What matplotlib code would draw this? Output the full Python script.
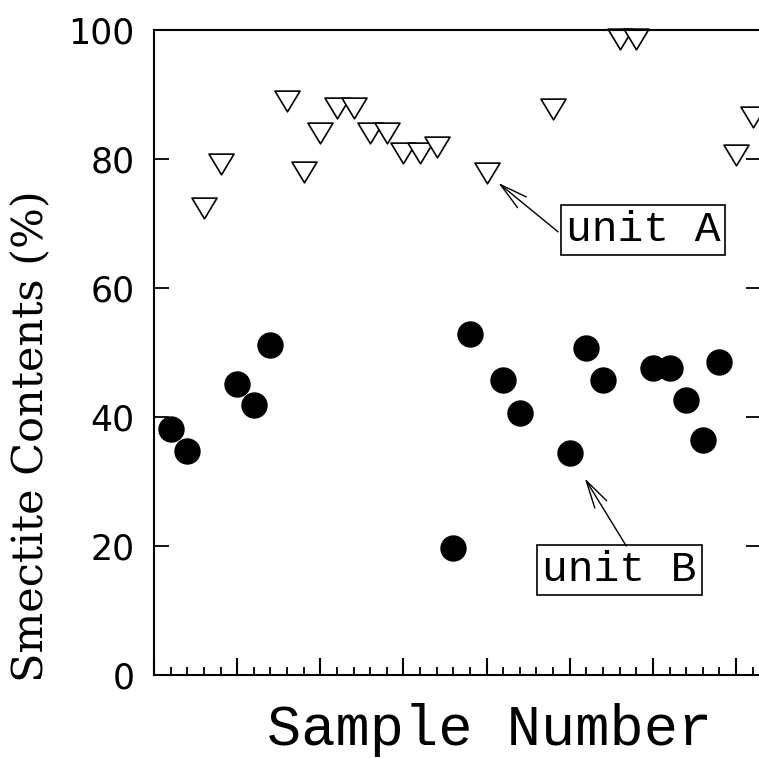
import matplotlib
matplotlib.use('Agg')
import matplotlib.pyplot as plt
from matplotlib.path import Path
from matplotlib.ticker import MultipleLocator, FixedLocator, NullFormatter

# unit A samples (open triangles)
unit_a_x = [3, 4, 8, 9, 10, 11, 12, 13, 14, 15, 16, 17, 20, 24, 28, 29, 35, 36]
unit_a_y = [72.4, 79.2, 89.0, 78.0, 84.0, 87.9, 87.9, 84.0, 84.0, 80.9, 80.9, 81.9,
            77.8, 87.8, 98.6, 98.6, 80.6, 86.5]

# unit B samples (filled circles)
unit_b_x = [1, 2, 5, 6, 7, 18, 19, 21, 22, 25, 26, 27, 30, 31, 32, 33, 34]
unit_b_y = [38.1, 34.7, 45.1, 41.9, 51.2, 19.7, 52.9, 45.7, 40.6, 34.4, 50.7, 45.7,
            47.6, 47.6, 42.6, 36.4, 48.5]

y_ticks = [0, 20, 40, 60, 80, 100]

fig = plt.figure(figsize=(7.59, 7.58), dpi=100)
ax = fig.add_axes([154 / 759, 83 / 758, 607 / 759, 645 / 758])

# slightly flattened downward triangle
tri = Path([(-1, 0.83), (1, 0.83), (0, -0.83), (-1, 0.83)], closed=True)
ax.plot(unit_a_x, unit_a_y, linestyle='none', marker=tri, markersize=18,
        markerfacecolor='white', markeredgecolor='black', markeredgewidth=1.2,
        clip_on=False)
ax.plot(unit_b_x, unit_b_y, linestyle='none', marker='o', markersize=18,
        color='black', clip_on=False)

ax.set_xlim(0, 36.5)
ax.set_ylim(0, 100)

for s in ax.spines.values():
    s.set_linewidth(1.5)

ax.xaxis.set_major_locator(MultipleLocator(5))
ax.xaxis.set_minor_locator(MultipleLocator(1))
ax.xaxis.set_major_formatter(NullFormatter())
ax.yaxis.set_major_locator(FixedLocator(y_ticks))
ax.tick_params(axis='x', which='major', direction='in', length=12, width=1.5,
               top=False, bottom=True)
ax.tick_params(axis='x', which='minor', direction='in', length=6, width=1.3,
               top=False, bottom=True)
ax.tick_params(axis='y', which='major', direction='in', length=11, width=1.3,
               left=True, right=True, pad=14)
for lbl in ax.get_yticklabels():
    lbl.set_fontfamily('DejaVu Sans')
    lbl.set_fontsize(25)

ax.set_xlabel('Sample Number', fontfamily='Liberation Mono', fontsize=41)
ax.xaxis.set_label_coords(0.553, -0.1085)
ax.xaxis.label.set_va('baseline')
ax.set_ylabel('Smectite Contents (%)', fontfamily='DejaVu Serif', fontsize=31)
ax.yaxis.set_label_coords(-0.168, 0.37)

box = dict(boxstyle='square,pad=0.12', facecolor='white', edgecolor='black', linewidth=1.2)
arrow = dict(arrowstyle='->,head_length=1.0,head_width=0.25', color='black',
             linewidth=1.0, mutation_scale=20, shrinkA=0, shrinkB=0)

# unit A label and arrow
ax.text(29.4, 69.0, 'unit A', fontfamily='Liberation Mono', fontsize=31,
        ha='center', va='center', bbox=box)
ax.annotate('', xy=(20.7, 76.3), xytext=(24.3, 68.7), arrowprops=arrow)

# unit B label and arrow
ax.text(28.0, 16.3, 'unit B', fontfamily='Liberation Mono', fontsize=31,
        ha='center', va='center', bbox=box)
ax.annotate('', xy=(25.9, 30.5), xytext=(28.4, 20.0), arrowprops=arrow)

fig.savefig('out.png', dpi=100)
